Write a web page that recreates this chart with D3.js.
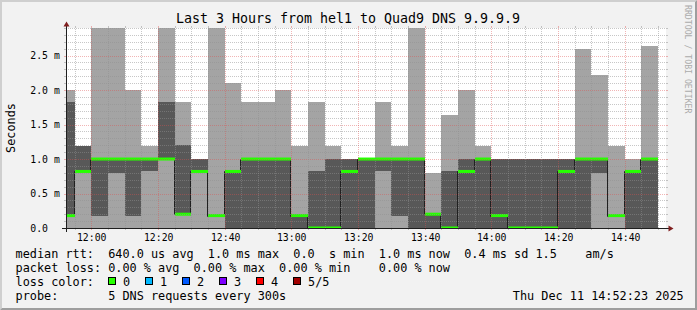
<!DOCTYPE html>
<html><head><meta charset="utf-8">
<script src="https://cdn.jsdelivr.net/npm/d3@7"></script>
<style>
html,body{margin:0;padding:0;background:#f2f2f2;overflow:hidden;}
svg{display:block;}
text{font-family:"DejaVu Sans Mono",monospace;white-space:pre;}
</style></head><body>
<svg id="c" width="697" height="310"></svg>
<script>
// ---------- data ----------
const bucketStarts = ["11:50","11:55","12:00","12:05","12:10","12:15","12:20","12:25","12:30","12:35",
  "12:40","12:45","12:50","12:55","13:00","13:05","13:10","13:15","13:20","13:25",
  "13:30","13:35","13:40","13:45","13:50","13:55","14:00","14:05","14:10","14:15",
  "14:20","14:25","14:30","14:35","14:40","14:45"];
const pingMin = [0,0,0,0,0,0,0,0,0,0, 0,0,0,0,0,0,0,0,0,0, 0,0,0,0,0,0,0,0,0,0, 0,0,0,0,0,0];
const ping2   = [0.18,0.82,0.18,0.80,0.18,0.82,1.00,0.20,0.82,0.18, 0,0,0,0,0,0,0,0,0,0.82, 0.18,0,0,0,0,0,0,0,0,0, 0,0,0.80,0.18,0,0];
const median  = [0.18,0.82,1.00,1.00,1.00,1.00,1.00,0.20,0.82,0.18, 0.82,1.00,1.00,1.00,0.18,0,0,0.82,1.00,1.00, 1.00,1.00,0.20,0,0.82,1.00,0.18,0,0,0, 0.82,1.00,1.00,0.18,0.82,1.00];
const ping4   = [1.83,1.19,1.00,1.00,1.00,1.00,1.83,1.20,1.00,0.18, 0.82,1.00,1.00,1.00,0.18,0.82,1.00,1.00,1.00,1.00, 1.00,1.00,0.20,0.82,1.00,1.00,1.00,1.00,1.00,1.00, 1.00,1.00,1.00,0.18,0.82,1.00];
const pingMax = [2.00,1.19,3.00,3.00,2.00,1.19,3.00,1.83,1.00,3.00, 2.10,1.83,1.83,2.00,1.19,1.83,1.19,1.00,1.00,1.83, 1.19,3.00,0.80,1.64,2.00,1.19,1.00,1.00,1.00,1.00, 1.00,2.60,2.22,1.19,1.00,2.64];
const lossCount = [0,0,0,0,0,0,0,0,0,0, 0,0,0,0,0,0,0,0,0,0, 0,0,0,0,0,0,0,0,0,0, 0,0,0,0,0,0];

const yMajorTicks = [0, 0.5, 1.0, 1.5, 2.0, 2.5];
const yTickLabels = ["0.0  ", "0.5 m", "1.0 m", "1.5 m", "2.0 m", "2.5 m"];
const lossLabels = ["0", "1", "2", "3", "4", "5/5"];
const lossColors = ["#26ff00", "#00b8ff", "#0059ff", "#7e00ff", "#ff0000", "#a10000"];

const titleText = "Last 3 Hours from hel1 to Quad9 DNS 9.9.9.9";
const legendLines = [
  "median rtt:  640.0 us avg  1.0 ms max  0.0  s min  1.0 ms now  0.4 ms sd 1.5    am/s",
  "packet loss: 0.00 % avg  0.00 % max  0.00 % min    0.00 % now",
  "loss color:",
  "probe:       5 DNS requests every 300s"
];
const dateText = "Thu Dec 11 14:52:23 2025";
const watermark = "RRDTOOL / TOBI OETIKER";
const startTime = "2025-12-11 11:52:23", endTime = "2025-12-11 14:52:23";
const day = "2025-12-11 ";
const yMax = 2.9;

// ---------- setup ----------
const W = 697, H = 310;
const svg = d3.select("#c");
const parse = d3.utcParse("%Y-%m-%d %H:%M:%S");
const parseHM = d3.utcParse("%Y-%m-%d %H:%M");
const t0 = parse(startTime), t1 = parse(endTime);
const x = d3.scaleUtc().domain([t0, t1]).range([66, 666]);
const y = d3.scaleLinear().domain([0, yMax]).range([228, 28]);
const X0 = x.range()[0], X1 = x.range()[1], Y0 = y.range()[0], Y1 = y.range()[1];

// background + shading frame
svg.append("rect").attr("width", W).attr("height", H).attr("fill", "#f2f2f2");
svg.append("polygon").attr("points", `0,0 ${W},0 ${W-2},2 2,2 2,${H-2} 0,${H}`).attr("fill", "#cfcfcf");
svg.append("polygon").attr("points", `0,${H} ${W},${H} ${W},0 ${W-2},2 ${W-2},${H-2} 2,${H-2}`).attr("fill", "#9e9e9e");

// canvas
svg.append("rect").attr("x", X0).attr("y", Y1).attr("width", X1 - X0).attr("height", Y0 - Y1).attr("fill", "#fff");
svg.append("clipPath").attr("id", "clip").append("rect")
  .attr("x", X0).attr("y", Y1).attr("width", X1 - X0).attr("height", Y0 - Y1);

const buckets = bucketStarts.map((s, i) => {
  const a = parseHM(day + s);
  const b = d3.utcMinute.offset(a, 5);
  return {a, b, p1: pingMin[i], p2: ping2[i], p3: median[i], p4: ping4[i], p5: pingMax[i], loss: lossCount[i]};
});
const px = t => Math.round(x(t));
const py = v => Math.round(y(v));

const g = svg.append("g").attr("clip-path", "url(#clip)");
// smoke: outer band (min..max) light, inner band (2nd..4th) dark
g.append("g").selectAll("rect").data(buckets).join("rect")
  .attr("x", d => px(d.a)).attr("width", d => px(d.b) - px(d.a))
  .attr("y", d => py(d.p5)).attr("height", d => py(d.p1) - py(d.p5))
  .attr("fill", "#a4a4a4").attr("shape-rendering", "crispEdges");
g.append("g").selectAll("rect").data(buckets).join("rect")
  .attr("x", d => px(d.a)).attr("width", d => px(d.b) - px(d.a))
  .attr("y", d => py(d.p4)).attr("height", d => py(d.p2) - py(d.p4))
  .attr("fill", "#585858").attr("shape-rendering", "crispEdges");

// median step line (thin dark)
const stepPts = buckets.map(d => [d.a, d.p3]);
stepPts.push([buckets[buckets.length - 1].b, buckets[buckets.length - 1].p3]);
g.append("path")
  .attr("d", d3.line().curve(d3.curveStepAfter).x(d => px(d[0]) - 0.5).y(d => py(d[1]) + 0.5)(stepPts))
  .attr("fill", "none").attr("stroke", "#202020").attr("stroke-width", 1);

// median colored by loss
g.append("g").selectAll("rect").data(buckets).join("rect")
  .attr("x", d => px(d.a)).attr("width", d => px(d.b) - px(d.a))
  .attr("y", d => y(d.p3) - 1.5).attr("height", 3)
  .attr("fill", d => lossColors[d.loss]);

// ---------- grid (on top) ----------
const gridMinor = "rgba(143,143,143,0.5)";
const gridMajor = "rgba(222,79,79,0.42)";
const grid = svg.append("g").attr("shape-rendering", "crispEdges");
const hMinor = d3.range(1, Math.round(yMax * 10) + 1).map(i => i / 10);
function hLine(v, col) {
  const yy = py(v) + 0.5;
  grid.append("line").attr("x1", X0 - 2).attr("x2", X0).attr("y1", yy).attr("y2", yy).attr("stroke", col);
  grid.append("line").attr("x1", X0).attr("x2", X1).attr("y1", yy).attr("y2", yy)
    .attr("stroke", col).attr("stroke-dasharray", "1,1");
  grid.append("line").attr("x1", X1).attr("x2", X1 + 2).attr("y1", yy).attr("y2", yy).attr("stroke", col);
}
hMinor.filter(v => !yMajorTicks.some(m => Math.abs(m - v) < 1e-6)).forEach(v => hLine(v, gridMinor));
yMajorTicks.filter(v => v > 0).forEach(v => hLine(v, gridMajor));

const vMinor = x.ticks(d3.utcMinute.every(5));
const vMajor = x.ticks(d3.utcMinute.every(20));
function vLine(t, col) {
  const xx = px(t) + 0.5;
  grid.append("line").attr("x1", xx).attr("x2", xx).attr("y1", Y0).attr("y2", Y0 + 2).attr("stroke", col);
  grid.append("line").attr("x1", xx).attr("x2", xx).attr("y1", Y0).attr("y2", Y1)
    .attr("stroke", col).attr("stroke-dasharray", "1,1");
  grid.append("line").attr("x1", xx).attr("x2", xx).attr("y1", Y1 - 2).attr("y2", Y1).attr("stroke", col);
}
vMinor.filter(t => t.getUTCMinutes() % 20 !== 0).forEach(t => vLine(t, gridMinor));
vMajor.forEach(t => vLine(t, gridMajor));

// ---------- axes ----------
const ax = svg.append("g").attr("shape-rendering", "crispEdges");
ax.append("line").attr("x1", X0 - 4).attr("x2", X1 + 4).attr("y1", Y0 + 0.5).attr("y2", Y0 + 0.5).attr("stroke", "#1f1f1f");
ax.append("line").attr("x1", X0 + 0.5).attr("x2", X0 + 0.5).attr("y1", Y0 + 4).attr("y2", Y1 - 4).attr("stroke", "#1f1f1f");
svg.append("polygon").attr("points", `${X1+2.5},${Y0-2.5} ${X1+2.5},${Y0+3.5} ${X1+7.5},${Y0+0.5}`).attr("fill", "#801f1f");
svg.append("polygon").attr("points", `${X0-2.5},${Y1-1.5} ${X0+3.5},${Y1-1.5} ${X0+0.5},${Y1-6.5}`).attr("fill", "#801f1f");

// y tick labels
svg.append("g").selectAll("text").data(yMajorTicks).join("text")
  .attr("x", 30.3).attr("y", d => y(d) + 3.6)
  .attr("font-size", "9.8px").attr("fill", "#000")
  .text((d, i) => yTickLabels[i]);
// x tick labels
svg.append("g").selectAll("text").data(vMajor).join("text")
  .attr("x", d => px(d) + 0.7).attr("y", 240.5).attr("text-anchor", "middle")
  .attr("font-size", "9.8px").attr("fill", "#000")
  .text(d => d3.utcFormat("%H:%M")(d));

// title
svg.append("text").attr("x", 348).attr("y", 23.3).attr("text-anchor", "middle")
  .attr("font-size", "13.3px").attr("fill", "#000").text(titleText);
// y axis title
svg.append("text").attr("transform", "translate(15,128) rotate(-90)").attr("text-anchor", "middle")
  .attr("font-size", "11.83px").attr("fill", "#000").text("Seconds");
// watermark
svg.append("text").attr("transform", "translate(684.5,5) rotate(90)")
  .attr("font-size", "8.2px").attr("fill", "#ababab").text(watermark);

// legend
const lg = svg.append("g").attr("font-size", "11.83px").attr("fill", "#000");
legendLines.forEach((s, i) => {
  lg.append("text").attr("x", 15.6).attr("y", 258 + i * 14).text(s);
});
lossLabels.forEach((lab, i) => {
  const bx = 108.5 + i * 37;
  lg.append("rect").attr("x", bx).attr("y", 277.5).attr("width", 7).attr("height", 7)
    .attr("fill", lossColors[i]).attr("stroke", "#000").attr("stroke-width", 1);
  lg.append("text").attr("x", bx + 14.6).attr("y", 286).text(lab);
});
lg.append("text").attr("x", 512.8).attr("y", 300).text(dateText);
</script>
</body></html>
